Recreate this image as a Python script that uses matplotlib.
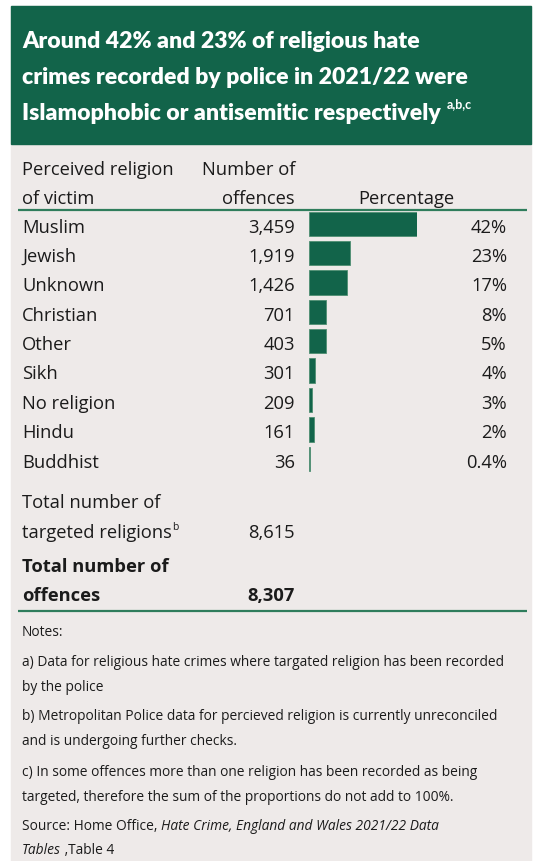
import matplotlib
matplotlib.use("Agg")
import matplotlib.pyplot as plt
from matplotlib.patches import Rectangle

# data
religions = ["Muslim", "Jewish", "Unknown", "Christian", "Other", "Sikh",
             "No religion", "Hindu", "Buddhist"]
offences = [3459, 1919, 1426, 701, 403, 301, 209, 161, 36]
pct_labels = ["42%", "23%", "17%", "8%", "5%", "4%", "3%", "2%", "0.4%"]
# bar lengths as drawn in the reference (percentage scale, Muslim = 42)
bar_len = [42, 15.9, 14.8, 6.6, 6.6, 2.6, 1.3, 1.9, 0.5]
total_targeted = 8615
total_offences = 8307

title_lines = ["Around 42% and 23% of religious hate",
               "crimes recorded by police in 2021/22 were",
               "Islamophobic or antisemitic respectively"]
notes = [
    ("Notes:", 636),
    ("a) Data for religious hate crimes where targated religion has been recorded", 666),
    ("by the police", 691),
    ("b) Metropolitan Police data for percieved religion is currently unreconciled", 720),
    ("and is undergoing further checks.", 745),
    ("c) In some offences more than one religion has been recorded as being", 776),
    ("targeted, therefore the sum of the proportions do not add to 100%.", 801),
]

GREEN = "#12644a"
LINE = "#2f7d5c"
BG = "#eeeae9"
TXT = "#1b1b1b"
W, H = 537, 861

fig = plt.figure(figsize=(W / 100, H / 100), dpi=100)
ax = fig.add_axes([0, 0, 1, 1])
ax.set_xlim(0, W)
ax.set_ylim(H, 0)
ax.axis("off")

# panel background and header
ax.add_patch(Rectangle((11, 6), 520, H, color=BG, zorder=0))
ax.add_patch(Rectangle((11, 6), 520, 138, color=GREEN, zorder=1))

body = "Open Sans"
for i, (line, yb) in enumerate(zip(title_lines, [48, 84, 120])):
    t = ax.text(22, yb, line, family="Lato", weight="heavy", size=16.6,
                color="white", va="baseline", zorder=2)
fig.canvas.draw()
r = fig.canvas.get_renderer()
bb = t.get_window_extent(r)
ax.text(bb.x1 + 6, 108, "a,b,c", family="Lato", weight="bold", size=9,
        color="white", va="baseline", zorder=2)

# column headers
hs = 13.2
ax.text(22, 175, "Perceived religion", family=body, size=hs, color=TXT, va="baseline")
ax.text(22, 203.5, "of victim", family=body, size=hs, color=TXT, va="baseline")
ax.text(295, 175, "Number of", family=body, size=hs, color=TXT, va="baseline", ha="right")
ax.text(295, 203.5, "offences", family=body, size=hs, color=TXT, va="baseline", ha="right")
ax.text(406, 203.5, "Percentage", family=body, size=hs, color=TXT, va="baseline", ha="center")
ax.plot([18, 527], [209.5, 209.5], color=LINE, lw=1.6, solid_capstyle="butt")

# rows
y0, dy = 223.8, 29.37
for i, (name, n, p) in enumerate(zip(religions, offences, pct_labels)):
    yb = y0 + i * dy + 8.8
    ax.text(22, yb, name, family=body, size=hs, color=TXT, va="baseline")
    ax.text(295, yb, f"{n:,}", family=body, size=hs, color=TXT, va="baseline", ha="right")
    ax.text(507, yb, p, family=body, size=hs, color=TXT, va="baseline", ha="right")

# bars in their own axes: x in percent, one row per religion
px_per_pct = 108.6 / 42
bx0 = 308.7
top = y0 - dy / 2
bottom = y0 + (len(religions) - 0.5) * dy
bax = fig.add_axes([bx0 / W, 1 - bottom / H, (42 * px_per_pct) / W, (bottom - top) / H])
bax.barh(range(len(religions)), bar_len, height=0.83, color=GREEN,
         edgecolor="#4f8f72", linewidth=0.6)
bax.set_xlim(0, 42)
bax.set_ylim(len(religions) - 0.5, -0.5)
bax.axis("off")

# totals
ax.text(22, 508.5, "Total number of", family=body, size=hs, color=TXT, va="baseline")
t = ax.text(22, 538.5, "targeted religions", family=body, size=hs, color=TXT, va="baseline")
fig.canvas.draw()
bb = t.get_window_extent(r)
ax.text(bb.x1, 530, "b", family=body, size=7.5, color=TXT, va="baseline")
ax.text(295, 538.5, f"{total_targeted:,}", family=body, size=hs, color=TXT,
        va="baseline", ha="right")
ax.text(22, 572, "Total number of", family=body, size=hs, weight="bold", color=TXT, va="baseline")
ax.text(22, 601, "offences", family=body, size=hs, weight="bold", color=TXT, va="baseline")
ax.text(295, 601, f"{total_offences:,}", family=body, size=hs, weight="bold", color=TXT,
        va="baseline", ha="right")
ax.plot([18, 527], [610.5, 610.5], color=LINE, lw=1.6, solid_capstyle="butt")

# notes
ns = 9.95
for line, yb in notes:
    ax.text(22, yb, line, family=body, size=ns, color=TXT, va="baseline")


def run(parts, x, yb):
    for s, style in parts:
        t = ax.text(x, yb, s, family=body, size=ns, style=style, color=TXT, va="baseline")
        fig.canvas.draw()
        x = t.get_window_extent(r).x1
    return x


run([("Source: Home Office, ", "normal"),
     ("Hate Crime, England and Wales 2021/22 Data", "italic")], 22, 830)
run([("Tables", "italic"), (" ,Table 4", "normal")], 22, 854)

fig.savefig("out.png", dpi=100, facecolor="white")
